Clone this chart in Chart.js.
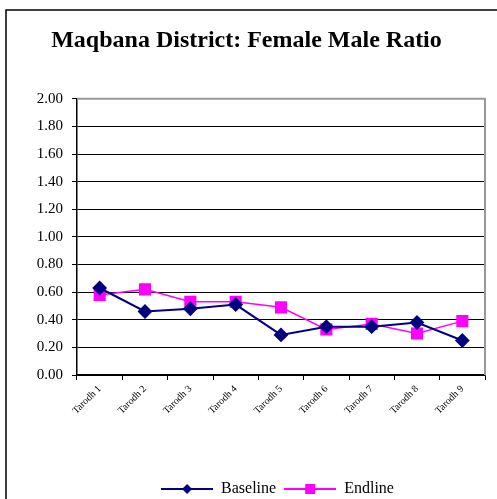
<!DOCTYPE html>
<html>
<head>
<meta charset="utf-8">
<script src="https://cdn.jsdelivr.net/npm/chart.js@4.4.1/dist/chart.umd.min.js"></script>
<style>
  html, body { margin: 0; padding: 0; background: #fff; }
  #wrap { width: 497px; height: 499px; position: relative; }
</style>
</head>
<body>
<div id="wrap"><canvas id="myChart"></canvas></div>
<script>
// categories and values
const villages = ['Tarodh 1', 'Tarodh 2', 'Tarodh 3', 'Tarodh 4', 'Tarodh 5', 'Tarodh 6', 'Tarodh 7', 'Tarodh 8', 'Tarodh 9'];
const baseline = [0.63, 0.46, 0.48, 0.51, 0.29, 0.35, 0.35, 0.38, 0.25];
const endline = [0.58, 0.62, 0.53, 0.53, 0.49, 0.33, 0.37, 0.30, 0.39];

const serif = '"Liberation Serif", "Times New Roman", serif';

// small legend sample: line with the marker in the middle
function legendIcon(color, shape) {
  const c = document.createElement('canvas');
  c.width = 52; c.height = 12;
  const g = c.getContext('2d');
  g.strokeStyle = color;
  g.lineWidth = 2;
  g.beginPath(); g.moveTo(0, 6); g.lineTo(52, 6); g.stroke();
  g.fillStyle = color;
  if (shape === 'diamond') {
    g.beginPath(); g.moveTo(26, 1); g.lineTo(31, 6); g.lineTo(26, 11); g.lineTo(21, 6); g.closePath(); g.fill();
  } else {
    g.fillRect(21, 1, 10, 10);
  }
  return c;
}

// white page, left/top frame and the grey plot border
const frame = {
  id: 'frame',
  afterLayout(chart) {
    // legend sits a bit right of centre and lower in the original
    const lg = chart.legend;
    lg.left += 31;
    lg.right += 31;
    lg.top += 8;
    lg.bottom += 8;
  },
  beforeDraw(chart) {
    const ctx = chart.ctx;
    ctx.save();
    ctx.fillStyle = '#fff';
    ctx.fillRect(0, 0, chart.width, chart.height);
    ctx.strokeStyle = '#000';
    ctx.lineWidth = 1.5;
    ctx.beginPath();
    ctx.moveTo(6, chart.height);
    ctx.lineTo(6, 10);
    ctx.lineTo(chart.width, 10);
    ctx.stroke();
    ctx.restore();
  },
  beforeDatasetsDraw(chart) {
    const a = chart.chartArea, ctx = chart.ctx;
    ctx.save();
    ctx.strokeStyle = '#999';
    ctx.lineWidth = 2;
    ctx.beginPath();
    ctx.moveTo(a.left, a.top);
    ctx.lineTo(a.right, a.top);
    ctx.lineTo(a.right, a.bottom);
    ctx.stroke();
    ctx.restore();
  }
};

const data = {
  labels: villages,
  datasets: [
    {
      label: 'Baseline',
      data: baseline,
      borderColor: '#000080',
      backgroundColor: '#000080',
      borderWidth: 2,
      pointStyle: 'rectRot',
      pointRadius: 6,
      pointHoverRadius: 6,
      tension: 0,
    },
    {
      label: 'Endline',
      data: endline,
      borderColor: '#FF00FF',
      backgroundColor: '#FF00FF',
      borderWidth: 1.5,
      pointStyle: 'rect',
      pointRadius: 7.5,
      pointHoverRadius: 7.5,
      tension: 0,
    },
  ],
};

const config = {
  type: 'line',
  data: data,
  plugins: [frame],
  options: {
    responsive: true,
    maintainAspectRatio: false,
    animation: false,
    layout: { padding: { left: 8, right: 12, top: 0, bottom: 0 } },
    plugins: {
      title: {
        display: true,
        text: 'Maqbana District: Female Male Ratio',
        color: '#000',
        font: { family: serif, size: 24, weight: 'bold' },
        padding: { top: 26, bottom: 44 },
      },
      legend: {
        position: 'bottom',
        labels: {
          color: '#000',
          font: { family: serif, size: 16 },
          usePointStyle: true,
          pointStyleWidth: 52,
          padding: 8,
          generateLabels(chart) {
            return chart.data.datasets.map((ds, i) => ({
              text: ds.label,
              fontColor: '#000',
              pointStyle: legendIcon(ds.borderColor, i === 0 ? 'diamond' : 'square'),
              datasetIndex: i,
              hidden: false,
              lineWidth: 0,
            }));
          },
        },
      },
      tooltip: { enabled: false },
    },
    scales: {
      x: {
        offset: true,
        grid: { offset: true, drawOnChartArea: false, color: '#000', tickLength: 5 },
        border: { color: '#000', width: 1.5 },
        ticks: {
          color: '#000',
          font: { family: serif, size: 10 },
          maxRotation: 45,
          minRotation: 45,
          autoSkip: false,
        },
        afterFit(scale) { scale.height = 90; },
      },
      y: {
        min: 0,
        max: 2,
        grid: { color: '#000', lineWidth: 1, tickLength: 5 },
        border: { color: '#000', width: 1.5 },
        ticks: {
          stepSize: 0.2,
          color: '#000',
          padding: 9,
          font: { family: serif, size: 15 },
          callback: (v) => Number(v).toFixed(2),
        },
        afterFit(scale) { scale.width = 69; },
      },
    },
  },
};

const ctx = document.getElementById('myChart').getContext('2d');
new Chart(ctx, config);
</script>
</body>
</html>
